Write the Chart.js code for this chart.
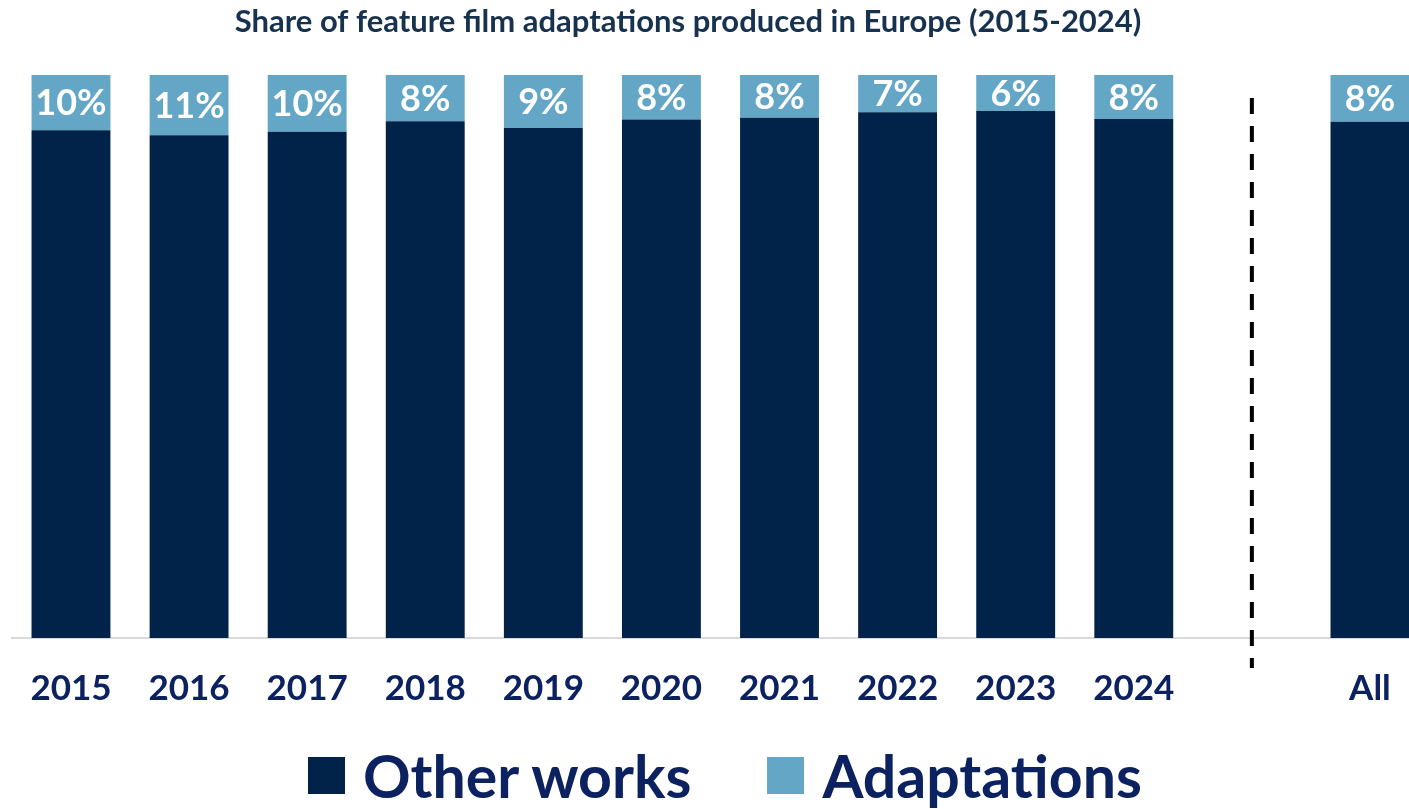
<!DOCTYPE html>
<html>
<head>
<meta charset="utf-8">
<script src="https://cdn.jsdelivr.net/npm/chart.js@4.4.1/dist/chart.umd.min.js"></script>
<style>
  html, body { margin: 0; padding: 0; background: #fff; overflow: hidden; }
  #wrap { position: relative; width: 1429px; height: 809px; }
  #legend { position: absolute; left: 308px; top: 740px; display: flex; align-items: center;
            font: bold 59px Lato, sans-serif; color: #0c2260; white-space: nowrap; }
  #legend .item { display: flex; align-items: center; margin-right: 76px; }
  #legend .box { width: 37px; height: 37px; margin-right: 18px; }
</style>
</head>
<body>
<div id="wrap">
  <canvas id="filmChart" width="1429" height="809"></canvas>
  <div id="legend"></div>
</div>
<script>
// categories (empty slot separates the years from the total)
const categories = ['2015', '2016', '2017', '2018', '2019', '2020', '2021', '2022', '2023', '2024', '', 'All'];
// share of adaptations, %
const adaptationShare = [9.8, 10.7, 10.1, 8.2, 9.4, 7.9, 7.6, 6.6, 6.4, 7.8, null, 8.3];
// share of other works, %
const otherShare = [90.2, 89.3, 89.9, 91.8, 90.6, 92.1, 92.4, 93.4, 93.6, 92.2, null, 91.7];

const navy = '#0c2260';

// title drawn a bit left of canvas centre, as in the source
const titlePlugin = {
    id: 'titleText',
    afterDraw(chart) {
        const c = chart.ctx;
        c.save();
        c.font = 'bold 31px Lato, sans-serif';
        c.fillStyle = '#17324f';
        c.textAlign = 'center';
        c.textBaseline = 'middle';
        c.fillText('Share of feature film adaptations produced in Europe (2015-2024)', 688, 22);
        c.restore();
    }
};

// dashed separator at the empty category
const separatorPlugin = {
    id: 'separator',
    afterDatasetsDraw(chart) {
        const x = chart.scales.x.getPixelForValue(10);
        const c = chart.ctx;
        c.save();
        c.strokeStyle = '#000';
        c.lineWidth = 4;
        c.setLineDash([16, 12]);
        c.beginPath();
        c.moveTo(x, 98);
        c.lineTo(x, 668);
        c.stroke();
        c.restore();
    }
};

// rounded % labels inside the adaptation segments
const labelPlugin = {
    id: 'barLabels',
    afterDatasetsDraw(chart) {
        const meta = chart.getDatasetMeta(1);
        const c = chart.ctx;
        c.save();
        c.font = 'bold 36px Lato, sans-serif';
        c.fillStyle = '#fff';
        c.textAlign = 'center';
        c.textBaseline = 'middle';
        meta.data.forEach((bar, i) => {
            const v = adaptationShare[i];
            if (v == null) return;
            c.fillText(Math.round(v) + '%', bar.x, (bar.y + bar.base) / 2 + 1);
        });
        c.restore();
    }
};

const ctx = document.getElementById('filmChart').getContext('2d');
const filmChart = new Chart(ctx, {
    type: 'bar',
    data: {
        labels: categories,
        datasets: [{
            label: 'Other works',
            data: otherShare,
            backgroundColor: '#012249'
        }, {
            label: 'Adaptations',
            data: adaptationShare,
            backgroundColor: '#63a6c5'
        }]
    },
    options: {
        responsive: false,
        animation: false,
        devicePixelRatio: 1,
        layout: { padding: { left: 9, right: 0, top: 75, bottom: 69 } },
        plugins: {
            legend: { display: false },
            tooltip: { enabled: false }
        },
        datasets: {
            bar: { categoryPercentage: 1, barPercentage: 0.668 }
        },
        scales: {
            x: {
                stacked: true,
                grid: { display: false, drawTicks: false },
                border: { display: true, color: '#d9d9d9', width: 2 },
                ticks: { color: navy, padding: 30, font: { family: 'Lato', weight: 'bold', size: 35 } }
            },
            y: {
                stacked: true,
                display: false,
                min: 0,
                max: 100
            }
        }
    },
    plugins: [titlePlugin, separatorPlugin, labelPlugin]
});

// legend built from the datasets
const legendEl = document.getElementById('legend');
filmChart.data.datasets.forEach(ds => {
    const item = document.createElement('div');
    item.className = 'item';
    const box = document.createElement('span');
    box.className = 'box';
    box.style.background = ds.backgroundColor;
    item.appendChild(box);
    item.appendChild(document.createTextNode(ds.label));
    legendEl.appendChild(item);
});
</script>
</body>
</html>
